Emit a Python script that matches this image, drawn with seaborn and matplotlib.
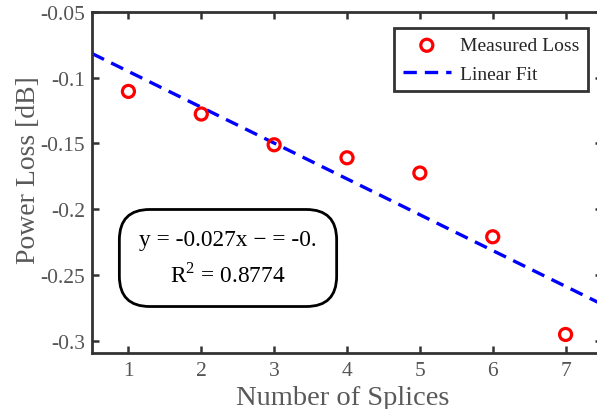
import numpy as np
import pandas as pd
import matplotlib
matplotlib.use("Agg")
import matplotlib.pyplot as plt
import seaborn as sns

# ---- data ----
splices = [1, 2, 3, 4, 5, 6, 7]
power_loss = [-0.1104, -0.1276, -0.1510, -0.1609, -0.1725, -0.2210, -0.2953]
y_ticks = [-0.3, -0.25, -0.2, -0.15, -0.1, -0.05]
y_tick_labels = ["-0.3", "-0.25", "-0.2", "-0.15", "-0.1", "-0.05"]
x_ticks = [1, 2, 3, 4, 5, 6, 7]
x_tick_labels = ["1", "2", "3", "4", "5", "6", "7"]
eq_text = "y = -0.027x \u2212 = -0.\nR$^2$ = 0.8774"

df = pd.DataFrame({"Number of Splices": splices, "Power Loss [dB]": power_loss})

sns.set_theme(style="white")
plt.rcParams["font.family"] = ["Liberation Serif", "DejaVu Serif"]
plt.rcParams["mathtext.fontset"] = "custom"
plt.rcParams["mathtext.rm"] = "Liberation Serif"
plt.rcParams["axes.unicode_minus"] = False

fig = plt.figure(figsize=(5.97, 4.10), dpi=100)
ax = fig.add_axes([92/597, 1-354/410, (602-92)/597, (354-13)/410])
ax.set_xlim(0.5, 7.5)
ax.set_ylim(-0.3094, -0.05)

sns.regplot(data=df, x="Number of Splices", y="Power Loss [dB]", ax=ax,
            scatter=False, ci=None, truncate=False, label="Linear Fit",
            line_kws=dict(color="blue", ls=(0, (4, 2.4)), lw=2.4))
sns.scatterplot(data=df, x="Number of Splices", y="Power Loss [dB]", ax=ax,
                marker="o", s=75, facecolors="none", edgecolor="red",
                linewidth=2.3, label="Measured Loss", zorder=3)

ax.set_xlim(0.5, 7.5)
ax.set_ylim(-0.3094, -0.05)

ax.set_xticks(x_ticks)
ax.set_xticklabels(x_tick_labels)
ax.set_yticks(y_ticks)
ax.set_yticklabels(y_tick_labels)

for s in ax.spines.values():
    s.set_color("#333333")
    s.set_linewidth(2.0)
    s.set_visible(True)

ax.tick_params(axis="both", which="both", direction="in", length=5, width=1.8,
               color="#333333", labelsize=15.5, labelcolor="#555555",
               top=True, right=True, bottom=True, left=True, pad=5)
ax.tick_params(axis="x", pad=6)

ax.set_xlabel("Number of Splices", fontsize=20.5, color="#595959")
ax.set_ylabel("Power Loss [dB]", fontsize=20, color="#595959")
ax.xaxis.set_label_coords((342.5-92)/510, -(386-354)/341)
ax.yaxis.set_label_coords((41-92)/510, (354-170)/341)

# legend in desired order
handles, labels = ax.get_legend_handles_labels()
order = [labels.index("Measured Loss"), labels.index("Linear Fit")]
leg = ax.legend([handles[i] for i in order], [labels[i] for i in order],
                loc="upper right", bbox_to_anchor=(588/597, 1-29/410),
                bbox_transform=fig.transFigure, borderaxespad=0,
                fontsize=14, frameon=True, fancybox=False, handlelength=2.5,
                handletextpad=0.45, borderpad=0.45, labelspacing=0.55)
leg.get_frame().set_edgecolor("black")
leg.get_frame().set_linewidth(2.0)
for t in leg.get_texts():
    t.set_color("#262626")

ax.text(228/597, 1-259/410, eq_text, transform=fig.transFigure,
        ha="center", va="center", fontsize=16.8, color="black",
        linespacing=1.6, multialignment="center",
        bbox=dict(boxstyle="round,pad=0.85,rounding_size=1.3",
                  fc="white", ec="black", lw=2.0))

fig.savefig("out.png", dpi=100)
